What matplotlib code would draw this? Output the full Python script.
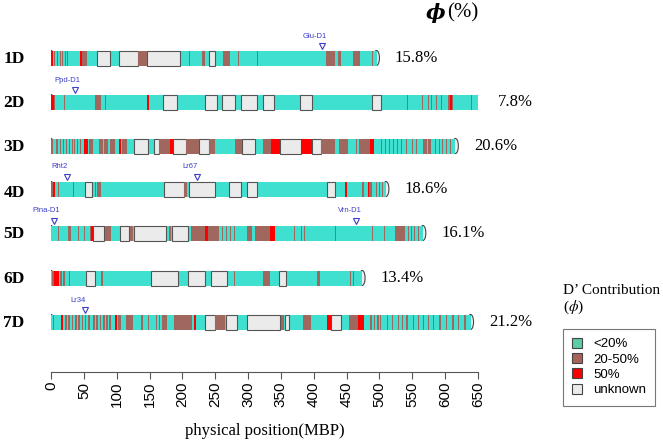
import matplotlib.pyplot as plt
from matplotlib.patches import Rectangle, Ellipse

plt.rcParams['mathtext.fontset'] = 'stix'

# chromosome names, lengths (MBP) and phi values
chroms = ['1D', '2D', '3D', '4D', '5D', '6D', '7D']
lengths = [495.5, 651.9, 615.6, 509.9, 566.1, 473.6, 638.7]
phi_pct = ['15.8%', '7.8%', '20.6%', '18.6%', '16.1%', '13.4%', '21.2%']

# segments (start, end, class); everything not listed is <20%
# L: <20%, M: 20-50%, H: 50%, U: unknown
seg_1D = [(0, 2.5, 'H'), (5, 6.5, 'M'), (9, 10.5, 'M'), (13, 14.5, 'M'), (17, 18.5, 'M'),
          (21, 22.5, 'M'), (25, 26.5, 'M'), (44, 47.5, 'H'), (47.5, 55, 'M'), (69.5, 89.7, 'U'),
          (103, 133, 'U'), (133, 145.5, 'M'), (145.5, 196, 'U'), (210.5, 212, 'M'),
          (230.5, 234, 'M'), (241, 250, 'U'), (262, 272, 'M'), (284, 285.5, 'M'),
          (314, 315.5, 'M'), (418, 432, 'M'), (437, 442, 'M'), (460, 470, 'M'), (489, 490.5, 'M')]
seg_2D = [(0, 4, 'H'), (4, 6, 'M'), (13, 14, 'M'), (20, 21, 'M'), (67.5, 75.5, 'M'),
          (82, 83.5, 'M'), (145.5, 148.5, 'H'), (171, 192, 'U'), (235, 252, 'U'), (261, 280, 'U'),
          (289, 313, 'U'), (322, 340, 'U'), (379, 398, 'U'), (489, 503, 'U'), (542, 543.5, 'M'),
          (565, 566, 'M'), (574, 575, 'M'), (578, 579.5, 'M'), (586, 587, 'M'), (593, 594.5, 'M'),
          (604, 607, 'M'), (607, 610, 'H'), (610, 612, 'M'), (640, 641.5, 'M')]
seg_3D = [(0, 3, 'M'), (8, 10, 'M'), (13, 14.5, 'M'), (18.5, 20, 'M'), (22.5, 24, 'M'),
          (27, 28.5, 'M'), (31.5, 33, 'M'), (35.5, 37, 'M'), (39.5, 41, 'M'), (44, 45.5, 'M'),
          (50, 56.8, 'H'), (58.5, 64, 'M'), (72.7, 78.4, 'M'), (81, 87, 'M'), (90, 98, 'M'),
          (104, 107, 'H'), (108, 115, 'M'), (126.7, 147.7, 'U'), (157, 165, 'U'), (165, 181, 'M'),
          (181, 185, 'H'), (185, 206, 'U'), (206, 226, 'M'), (226, 240, 'U'), (240, 249, 'M'),
          (280, 290, 'M'), (290, 311, 'U'), (323, 335, 'M'), (335, 348, 'H'), (348, 380, 'U'),
          (380, 398, 'H'), (398, 411, 'U'), (411, 433, 'M'), (439, 452, 'M'), (464, 466, 'M'),
          (469, 486, 'M'), (486, 492, 'H'), (502, 503.5, 'M'), (509, 510.5, 'M'), (515, 516.5, 'M'),
          (520.5, 522, 'M'), (527, 528.5, 'M'), (533, 534.5, 'M'), (541, 542.5, 'M'),
          (550, 551.5, 'M'), (556, 557.5, 'M'), (567, 572, 'M'), (574, 578, 'M'),
          (584, 585.5, 'M'), (590, 591.5, 'M'), (595, 596.5, 'M'), (601, 602.5, 'M'),
          (607, 608.5, 'M')]
seg_4D = [(0, 3, 'M'), (3, 6.5, 'H'), (11, 12.5, 'M'), (33, 34.5, 'M'), (51.5, 63, 'U'),
          (66.5, 68, 'M'), (70, 76.5, 'M'), (171.5, 203, 'U'), (203, 206.5, 'M'), (210, 249, 'U'),
          (271.5, 289, 'U'), (299, 313, 'U'), (420, 433, 'U'), (447, 450, 'H'), (473, 476.5, 'M'),
          (482, 483.5, 'H'), (484, 489, 'M'), (494, 495.5, 'M'), (499, 500.5, 'M'),
          (504, 505.5, 'M')]
seg_5D = [(10, 11.5, 'M'), (26, 30, 'M'), (40.5, 42, 'M'), (50, 51.5, 'M'), (60, 61.5, 'M'),
          (61.5, 64, 'H'), (64, 81, 'U'), (82, 92, 'M'), (105, 118, 'U'), (121, 124.6, 'M'),
          (126, 175.4, 'U'), (180, 182, 'M'), (184.8, 209, 'U'), (213, 235, 'M'), (235, 239, 'H'),
          (239, 256, 'M'), (261, 262.5, 'M'), (267, 268.5, 'M'), (273, 274.5, 'M'),
          (279, 280.5, 'M'), (299, 306, 'M'), (310, 334, 'M'), (334, 341.5, 'H'),
          (370, 371.5, 'M'), (380.5, 382, 'M'), (385.6, 387, 'M'), (432, 433.5, 'M'),
          (489, 490.5, 'M'), (507.6, 509, 'M'), (523, 539, 'M'), (543, 544.5, 'M'),
          (548, 549.5, 'M'), (553, 554.5, 'M'), (558.5, 560, 'M')]
seg_6D = [(2, 4, 'M'), (4, 11.5, 'H'), (13, 16, 'M'), (18, 22, 'M'), (28, 29.5, 'M'),
          (54, 66.5, 'U'), (75.5, 79, 'M'), (151.5, 194, 'U'), (209, 235, 'U'), (244, 268, 'U'),
          (279, 280.5, 'M'), (322, 334, 'M'), (347, 358, 'U'), (404.5, 409.5, 'M'),
          (454.5, 456, 'M'), (459.5, 461, 'M')]
seg_7D = [(3, 4.5, 'M'), (15, 18, 'H'), (21.6, 24, 'M'), (26.6, 29, 'M'), (31.6, 34, 'M'),
          (36.6, 39, 'M'), (41.7, 44, 'M'), (46.7, 49, 'M'), (51.7, 54, 'M'), (56.7, 59, 'M'),
          (64, 66.5, 'M'), (69, 71.5, 'M'), (74, 76.5, 'M'), (79, 81.5, 'M'), (84, 86.5, 'M'),
          (89, 91.5, 'M'), (97, 100, 'H'), (102, 107, 'M'), (114.5, 124.5, 'M'),
          (137, 139.5, 'M'), (147, 149.6, 'M'), (159.6, 161, 'M'), (164.7, 166, 'M'),
          (169.7, 177, 'M'), (187, 215, 'M'), (217, 220, 'H'), (235, 250, 'U'), (250, 265, 'M'),
          (266, 282.6, 'U'), (297.7, 348, 'U'), (350, 355, 'M'), (356, 363, 'U'),
          (383, 395.6, 'M'), (420.7, 425.7, 'H'), (425.7, 440.8, 'U'), (453, 468, 'M'),
          (468, 476, 'H'), (486, 488, 'M'), (491, 493, 'M'), (497, 499, 'M'), (501, 503, 'M'),
          (511, 513, 'M'), (518.6, 520.5, 'M'), (528.6, 530.5, 'M'), (533.6, 535.5, 'M'),
          (541, 543, 'M'), (551, 553, 'M'), (558.7, 560.5, 'M'), (566, 568, 'M'),
          (573.8, 575.5, 'M'), (581, 583, 'M'), (591, 593, 'M'), (601, 603, 'M'),
          (611, 613, 'M'), (619, 621, 'M'), (629, 631, 'M')]
segments = [seg_1D, seg_2D, seg_3D, seg_4D, seg_5D, seg_6D, seg_7D]

# known genes (chromosome, name, position MBP)
gene_chrom = ['1D', '2D', '4D', '4D', '5D', '5D', '7D']
gene_name = ['Glu-D1', 'Ppd-D1', 'Rht2', 'Lr67', 'Pina-D1', 'Vrn-D1', 'Lr34']
gene_pos = [412, 36, 24, 222, 4, 465, 52]

colors = {'L': '#40E0D0', 'M': '#A0675F', 'H': '#FF0000', 'U': '#EBEBEB'}
leg_labels = ['<20%', '20-50%', '50%', 'unknown']
leg_colors = ['#5ACCA8', '#A8625A', '#FF0000', '#EBEBEB']

W, H = 663, 446
fig = plt.figure(figsize=(W / 100, H / 100), dpi=100)
x0, x1 = 51, 478  # pixel positions of 0 and 650 MBP
ax = fig.add_axes([x0 / W, 0, (x1 - x0) / W, 1])
ax.set_xlim(0, 650)
ax.set_ylim(H, 0)
px = 650 / (x1 - x0)  # MBP per pixel

serif = 'Liberation Serif'
sans = 'Liberation Sans'

row_y = [58, 102, 146, 189, 233, 278, 322]
label_dy = [1, 1, 1, 4, 1, 1, 1]
bh = 15

for name, L, pct, segs, y, dy in zip(chroms, lengths, phi_pct, segments, row_y, label_dy):
    for cx in (0, L):
        ax.add_patch(Ellipse((cx, y), 9, bh, fc='#EEEEEE', ec='#444444', lw=0.8, zorder=1))
    ax.add_patch(Rectangle((0, y - bh / 2), L, bh, fc=colors['L'], ec='none', zorder=2))
    for s, e, c in segs:
        if c == 'U':
            ax.add_patch(Rectangle((s, y - bh / 2), e - s, bh, fc=colors['U'],
                                   ec='#555555', lw=0.8, zorder=3))
        else:
            ax.add_patch(Rectangle((s, y - bh / 2), e - s, bh, fc=colors[c], ec='none', zorder=4))
    ax.text(-37 * px, y + dy, name, ha='center', va='center', fontsize=12.5,
            fontweight='bold', family=serif)
    ax.text(L + 28, y, pct, ha='left', va='center', fontsize=12, family=serif)

for ch, g, p in zip(gene_chrom, gene_name, gene_pos):
    y = row_y[chroms.index(ch)]
    ax.plot(p, y - bh / 2 - 5, marker='v', ms=4.5, mfc='none', mec='#3C3CC8', mew=0.8,
            clip_on=False, zorder=5)
    ax.text(p - 7 * px, y - bh / 2 - 11, g, ha='center', va='bottom', fontsize=5.5,
            color='#3C3CC8', family=sans)

# header
fig.text(426 / W, 1 - 13 / H, 'ϕ', fontsize=15, fontweight='bold', fontstyle='italic',
         family='DejaVu Serif', va='center', ha='left')
fig.text(447 / W, 1 - 13 / H, '(%)', fontsize=15, family=serif, va='center', ha='left')

# x axis
for sp in ['top', 'left', 'right']:
    ax.spines[sp].set_visible(False)
ax.spines['bottom'].set_position(('data', 372))
ax.spines['bottom'].set_bounds(0, 650)
ax.spines['bottom'].set_color('#555555')
ax.set_yticks([])
ax.set_xticks(range(0, 651, 50))
ax.tick_params(axis='x', length=5, color='#555555', labelsize=11, labelrotation=90, pad=2)
for t in ax.get_xticklabels():
    t.set_family(sans)
ax.text(325, 431, 'physical position(MBP)', ha='center', va='center', fontsize=12, family=serif)

# legend
fig.text(563 / W, 1 - 290 / H, 'D\u2019 Contribution', fontsize=11, family=serif, va='center')
fig.text(563 / W, 1 - 307 / H, r'($\phi$)', fontsize=11, family=serif, va='center')
handles = [Rectangle((0, 0), 1, 1, fc=c, ec='#444444', lw=0.8) for c in leg_colors]
leg = fig.legend(handles, leg_labels, loc='upper left', bbox_to_anchor=(556 / W, 1 - 322 / H),
                 frameon=True, fancybox=False, edgecolor='#555555', handlelength=0.8,
                 handleheight=0.8, handletextpad=0.8, labelspacing=0.2, borderpad=0.7,
                 prop={'family': sans, 'size': 9.5})
leg.get_frame().set_linewidth(0.8)

fig.savefig('out.png', dpi=100)
